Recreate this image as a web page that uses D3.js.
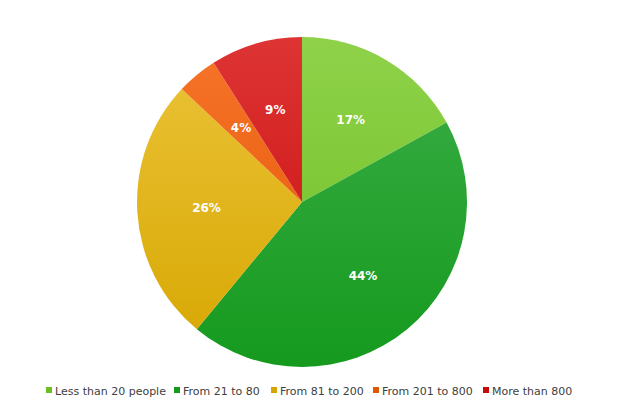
<!DOCTYPE html>
<html><head><meta charset="utf-8">
<script src="https://cdn.jsdelivr.net/npm/d3@7"></script>
<style>body{margin:0;background:#fff}text{font-family:"DejaVu Sans",sans-serif}</style>
</head><body>
<svg id="c" width="618" height="412"></svg>
<script>
var categories = ["Less than 20 people","From 21 to 80","From 81 to 200","From 201 to 800","More than 800"];
var values = [17,44,26,4,9];
var topColors = ["#8fd24a","#3cae48","#ecc43a","#f6742a","#de3434"];
var botColors = ["#6cbe22","#159a1e","#d6a600","#e45500","#c80a0a"];
var legendX = [46,174,271,373,483];

var svg = d3.select("#c");
var defs = svg.append("defs");
var cx = 302, cy = 202, r = 165;

categories.forEach(function(c,i){
	var g = defs.append("linearGradient").attr("id","g"+i)
		.attr("gradientUnits","userSpaceOnUse")
		.attr("x1",0).attr("y1",cy-r).attr("x2",0).attr("y2",cy+r);
	g.append("stop").attr("offset","0%").attr("stop-color",topColors[i]);
	g.append("stop").attr("offset","100%").attr("stop-color",botColors[i]);
});

var pie = d3.pie().sort(null).value(function(d){return d;});
var arc = d3.arc().innerRadius(0).outerRadius(r);
var labelArc = d3.arc().innerRadius(r*0.58).outerRadius(r*0.58);
var arcs = pie(values);

var g = svg.append("g").attr("transform","translate("+cx+","+cy+")");
g.selectAll("path").data(arcs).enter().append("path")
	.attr("d",arc)
	.attr("fill",function(d,i){return "url(#g"+i+")";})
	.attr("transform","translate(0,"+(-cy)+")").attr("transform",null);
// gradient is in user space of the group, so shift gradient coords
defs.selectAll("linearGradient").attr("y1",-r).attr("y2",r);

g.selectAll("text").data(arcs).enter().append("text")
	.attr("transform",function(d){return "translate("+labelArc.centroid(d)+")";})
	.attr("text-anchor","middle").attr("dy","0.35em")
	.attr("fill","#fff").attr("font-weight","bold").attr("font-size",12)
	.text(function(d){return d.data+"%";});

var lg = svg.append("g");
categories.forEach(function(c,i){
	lg.append("rect").attr("x",legendX[i]).attr("y",387).attr("width",6).attr("height",6).attr("fill",botColors[i]);
	lg.append("text").attr("x",legendX[i]+9).attr("y",394.5).attr("font-size",11).attr("fill","#404040").text(c);
});
</script>
</body></html>
